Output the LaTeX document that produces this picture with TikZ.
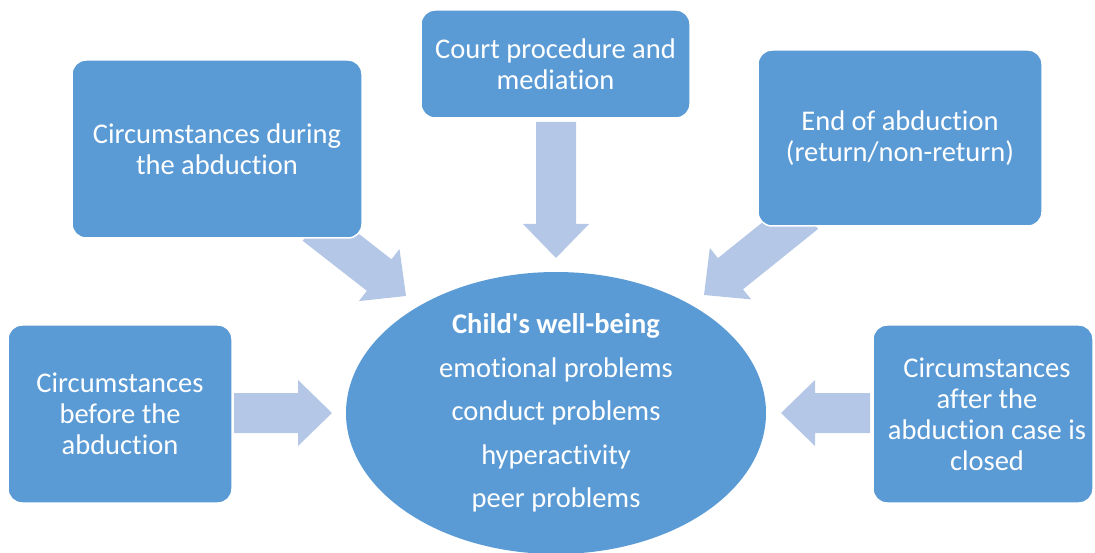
\documentclass[tikz,border=0pt]{standalone}
\usepackage{fontspec}
\setmainfont{Carlito}[Ligatures={TeX,NoCommon}]
\usetikzlibrary{calc,shapes.geometric}
\definecolor{boxblue}{HTML}{5B9BD5}
\definecolor{arrowblue}{HTML}{B4C7E7}
\tikzset{
  box/.style={draw=white, line width=1.5pt, fill=boxblue, rounded corners=14pt,
    text=white, align=center, inner sep=0pt, font=\fontsize{28.5}{31}\selectfont},
  hub/.style={ellipse, fill=boxblue, text=white, align=center, inner sep=0pt,
    minimum width=420pt, minimum height=282pt, font=\fontsize{28.5}{43.5}\selectfont},
  arrowfill/.style={fill=arrowblue}
}
\newcommand\blockarrow[3]{%
  \coordinate (#3) at ($(#2)!34pt!(#1)$);
  \fill[arrowfill] ($(#1)!20pt!90:(#2)$) -- ($(#3)!20pt!90:(#2)$) -- ($(#3)!33pt!90:(#2)$)
    -- (#2) -- ($(#3)!33pt!-90:(#2)$) -- ($(#3)!20pt!-90:(#2)$) -- ($(#1)!20pt!-90:(#2)$) -- cycle;}
\begin{document}
\begin{tikzpicture}[x=1pt,y=-1pt]
\useasboundingbox (0,0) rectangle (1095,553);
% arrow end points
\coordinate (a1s) at (315,225);   \coordinate (a1e) at (406,296);
\coordinate (a2s) at (805.6,213.3); \coordinate (a2e) at (704,295);
\coordinate (a3s) at (556,122);   \coordinate (a3e) at (556,258);
\coordinate (a4s) at (234,413);   \coordinate (a4e) at (332,413);
\coordinate (a5s) at (870,413);   \coordinate (a5e) at (781,413);
\blockarrow{a1s}{a1e}{a1h}
\blockarrow{a2s}{a2e}{a2h}
\blockarrow{a3s}{a3e}{a3h}
\blockarrow{a4s}{a4e}{a4h}
\blockarrow{a5s}{a5e}{a5h}
% boxes
\node[box, minimum width=290pt, minimum height=178pt] (during) at (217,149)
  {Circumstances during\\the abduction};
\node[box, minimum width=269pt, minimum height=108pt] (court) at (555.5,64)
  {Court procedure and\\mediation};
\node[box, minimum width=284pt, minimum height=176pt] (end) at (900,138)
  {End of abduction\\(return/non-return)};
\node[box, minimum width=224pt, minimum height=178pt] (before) at (120,414)
  {Circumstances\\before the\\abduction};
\node[box, minimum width=220pt, minimum height=178pt] (after) at (983,414)
  {\hspace*{8pt}Circumstances\\\hspace*{8pt}after the\\\hspace*{8pt}abduction case is\\\hspace*{8pt}closed};
% hub
\node[hub] (child) at (556,413)
  {{\bfseries Child\textquotesingle s well-being}\\emotional problems\\conduct problems\\hyperactivity\\peer problems};
\end{tikzpicture}
\end{document}
